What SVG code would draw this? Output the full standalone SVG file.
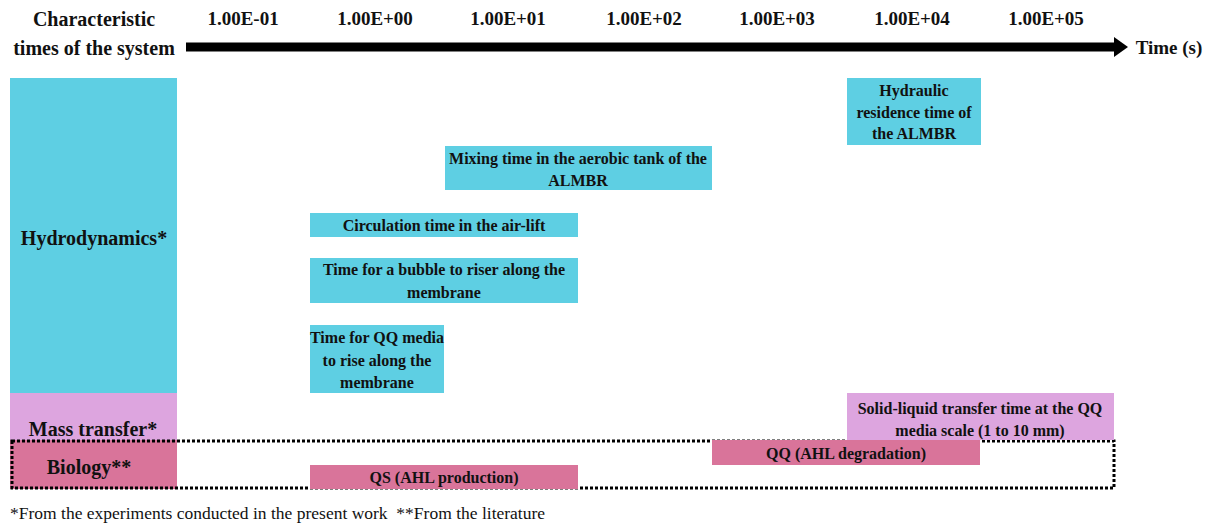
<svg xmlns="http://www.w3.org/2000/svg" width="1211" height="525" viewBox="0 0 1211 525">
<style>
text{font-family:"Liberation Serif","Times New Roman",serif;font-weight:bold;font-size:16px;fill:#111;text-anchor:middle}
.hy{fill:#5ECFE3}
.mt{fill:#DDA5DF}
.bio{fill:#D9749A}
.ft{font-weight:normal;font-size:17.5px;text-anchor:start;white-space:pre}
.ax{font-size:19px}
.big{font-size:20px}
</style>
<defs>
<marker id="ah" markerWidth="15" markerHeight="20" refX="0" refY="10" orient="auto" markerUnits="userSpaceOnUse">
<path d="M0,0 L14,10 L0,20 Z" fill="#000"/>
</marker>
</defs>
<rect width="1211" height="525" fill="#fff"/>
<g id="header">
<text class="big" x="94" y="26">Characteristic</text>
<text class="big" x="94" y="55">times of the system</text>
<text class="ax" x="243" y="25">1.00E-01</text>
<text class="ax" x="375" y="25">1.00E+00</text>
<text class="ax" x="508" y="25">1.00E+01</text>
<text class="ax" x="644" y="25">1.00E+02</text>
<text class="ax" x="777" y="25">1.00E+03</text>
<text class="ax" x="912" y="25">1.00E+04</text>
<text class="ax" x="1046" y="25">1.00E+05</text>
<text class="ax" x="1169" y="54">Time (s)</text>
</g>
<g id="connectors">
<line x1="186" y1="47" x2="1114" y2="47" stroke="#000" stroke-width="9" marker-end="url(#ah)"/>
</g>
<g id="cat-hydro"><rect class="hy" x="10" y="78" width="167" height="315"/><text class="big" x="94" y="245">Hydrodynamics*</text></g>
<g id="cat-mass"><rect class="mt" x="10" y="393" width="167" height="47"/><text class="big" x="93" y="436">Mass transfer*</text></g>
<g id="cat-bio"><rect class="bio" x="10" y="440" width="167" height="49"/><text class="big" x="89" y="474">Biology**</text></g>
<g id="biology-frame"><rect x="12" y="441" width="1102" height="47" fill="none" stroke="#000" stroke-width="3" stroke-dasharray="3,2"/></g>
<g id="n-hydraulic"><rect class="hy" x="847" y="78" width="134" height="67"/><text x="914" y="96">Hydraulic</text><text x="914" y="118">residence time of</text><text x="914" y="139">the ALMBR</text></g>
<g id="n-mixing"><rect class="hy" x="445" y="146" width="267" height="44"/><text x="578" y="164">Mixing time in the aerobic tank of the</text><text x="578" y="186">ALMBR</text></g>
<g id="n-circulation"><rect class="hy" x="310" y="213" width="268" height="24"/><text x="444" y="231">Circulation time in the air-lift</text></g>
<g id="n-bubble"><rect class="hy" x="310" y="258" width="268" height="45"/><text x="444" y="275">Time for a bubble to riser along the</text><text x="444" y="298">membrane</text></g>
<g id="n-qqmedia"><rect class="hy" x="310" y="325" width="134" height="68"/><text x="377" y="343">Time for QQ media</text><text x="377" y="366">to rise along the</text><text x="377" y="388">membrane</text></g>
<g id="n-solid"><rect class="mt" x="847" y="393" width="267" height="47"/><text x="980" y="414">Solid-liquid transfer time at the QQ</text><text x="980" y="436">media scale (1 to 10 mm)</text></g>
<g id="n-qq"><rect class="bio" x="712" y="440" width="268" height="25"/><text x="846" y="459">QQ (AHL degradation)</text></g>
<g id="n-qs"><rect class="bio" x="310" y="465" width="268" height="24"/><text x="444" y="483">QS (AHL production)</text></g>
<text class="ft" x="10" y="519">*From the experiments conducted in the present work  **From the literature</text>
</svg>
